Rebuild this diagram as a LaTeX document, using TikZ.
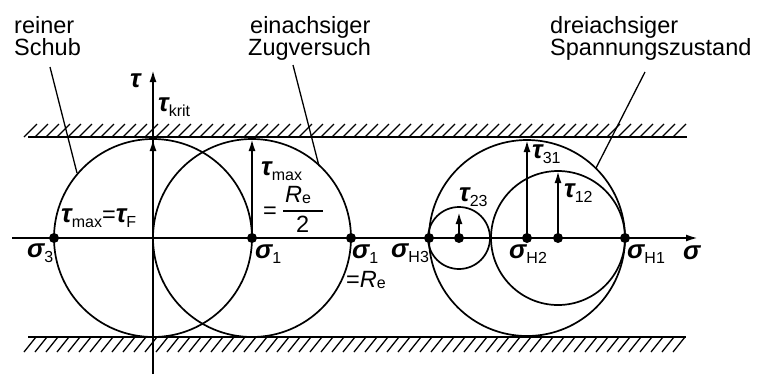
\documentclass[tikz,border=0pt]{standalone}
\usepackage{fontspec}
\setmainfont{Liberation Sans}
\usetikzlibrary{arrows.meta}
\newcommand\gk[1]{{\fontsize{26bp}{26bp}\selectfont\bfseries\itshape #1}}
\newcommand\sbs[1]{\raisebox{-5bp}{\fontsize{16bp}{16bp}\selectfont #1}}
\newcommand\sbe[1]{\raisebox{-1bp}{\fontsize{16bp}{16bp}\selectfont #1}}
\begin{document}
\begin{tikzpicture}[x=1bp,y=-1bp,
  lbl/.style={inner sep=0pt, anchor=base west, font=\fontsize{23.5bp}{24bp}\selectfont},
  axline/.style={line width=2bp},
  circ/.style={line width=1.7bp},
  hatchline/.style={line width=1.3bp},
  lead/.style={line width=1.3bp},
  arr/.style={line width=2bp, -{Latex[length=12bp,width=7bp]}},
  dot/.style={circle, fill=black, inner sep=0pt, minimum size=10bp},
]
\useasboundingbox (0,0) rectangle (761,374);

% hatched limit lines
\draw[axline] (28,137) -- (687,137);
\foreach \x in {24,35,...,679} \draw[hatchline] (\x,137) -- (\x+13,124);
\draw[axline] (28,337) -- (686,337);
\foreach \x in {36,47,...,690} \draw[hatchline] (\x,337) -- (\x-12,352);

% coordinates
\coordinate (O) at (153,238);
\coordinate (sigL) at (12,238);
\coordinate (sigR) at (698,238);
\coordinate (tauB) at (153,374);
\coordinate (tauT) at (153,70);
\coordinate (krit) at (153,139);

% circles
\draw[circ] (153,238) circle (99bp);
\draw[circ] (252,238) circle (99bp);
\draw[circ] (527,238) circle (98bp);
\draw[circ] (459,238) circle (31bp);
\draw[circ] (558,238) circle (67bp);

% axes
\draw[arr] (sigL) -- (sigR);
\draw[arr] (tauB) -- (tauT);
\draw[arr] (O) -- (krit);

% dots
\node[dot] (s3d) at (54,238) {};
\node[dot] (s1d) at (252,238) {};
\node[dot] (red) at (351,238) {};
\node[dot] (h3d) at (429,238) {};
\node[dot] (c23) at (459,238) {};
\node[dot] (h2d) at (527,238) {};
\node[dot] (c12) at (558,238) {};
\node[dot] (h1d) at (625,238) {};

% tau arrows
\coordinate (tmaxT) at (252,139);
\coordinate (t23T) at (459,212);
\coordinate (t31T) at (527,140);
\coordinate (t12T) at (558,171);
\draw[arr] (s1d.center) -- (tmaxT);
\draw[arr] (c23.center) -- (t23T);
\draw[arr] (h2d.center) -- (t31T);
\draw[arr] (c12.center) -- (t12T);

% leader lines
\coordinate (l1a) at (50,67);   \coordinate (l1b) at (77,173);
\coordinate (l2a) at (293,65);  \coordinate (l2b) at (319,166);
\coordinate (l3a) at (645,72);  \coordinate (l3b) at (596,168);
\draw[lead] (l1a) -- (l1b);
\draw[lead] (l2a) -- (l2b);
\draw[lead] (l3a) -- (l3b);

% texts
\node[lbl] (reiner) at (14,33) {reiner};
\node[lbl] (schub) at (14,55) {Schub};
\node[lbl] (einach) at (250,33) {einachsiger};
\node[lbl] (zug) at (248,55) {Zugversuch};
\node[lbl] (drei) at (550,33) {dreiachsiger};
\node[lbl] (spann) at (550,55) {Spannungszustand};

% symbols
\node[lbl] (tauax) at (130,87) {\gk{τ}};
\node[lbl] (taukrit) at (158,111) {\gk{τ}\sbs{krit}};
\node[lbl] (taumax) at (261,175) {\gk{τ}\sbs{max}};
\node[lbl] (eq) at (263,218) {=};
\node[lbl] (Re) at (285,202) {\textit{R}\sbe{e}};
\draw[circ] (283,211) -- (323,211);
\node[lbl] (two) at (296,232) {2};
\node[lbl] (s1a) at (255,258) {\gk{σ}\sbs{1}};
\node[lbl] (s1b) at (352,258) {\gk{σ}\sbs{1}};
\node[lbl] (reeq) at (346,287) {=\textit{R}\sbe{e}};
\node[lbl] (s3) at (27,257) {\gk{σ}\sbs{3}};
\node[lbl] (tmf) at (61,222) {\gk{τ}\sbs{max}=\gk{τ}\sbs{F}};
\node[lbl] (sh3) at (391,257) {\gk{σ}\sbs{H3}};
\node[lbl] (sh2) at (509,258) {\gk{σ}\sbs{H2}};
\node[lbl] (sh1) at (627,258) {\gk{σ}\sbs{H1}};
\node[lbl] (sax) at (683,259) {\gk{σ}};
\node[lbl] (t23) at (459,201) {\gk{τ}\sbs{23}};
\node[lbl] (t31) at (532,158) {\gk{τ}\sbs{31}};
\node[lbl] (t12) at (564,197) {\gk{τ}\sbs{12}};
\end{tikzpicture}
\end{document}
